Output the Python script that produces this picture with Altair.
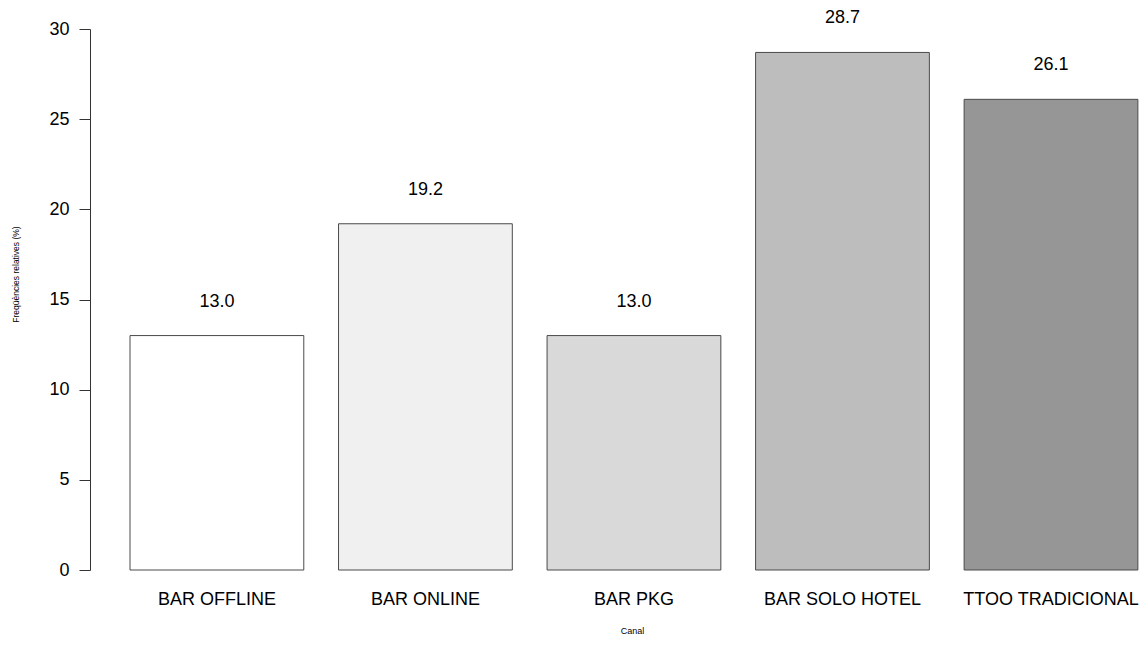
import altair as alt
import pandas as pd

canals = ["BAR OFFLINE", "BAR ONLINE", "BAR PKG", "BAR SOLO HOTEL", "TTOO TRADICIONAL"]
freq = [13.0, 19.2, 13.0, 28.7, 26.1]
fills = ["#FFFFFF", "#F0F0F0", "#D9D9D9", "#BDBDBD", "#969696"]

df = pd.DataFrame({"Canal": canals, "Freq": freq, "Fill": fills})

FONT = "Liberation Sans"

x = alt.X(
    "Canal:N",
    sort=canals,
    scale=alt.Scale(paddingInner=1/6, paddingOuter=0.0986, align=0.973),
    axis=alt.Axis(
        title="Canal",
        labelAngle=0,
        domain=False,
        ticks=False,
        labelPadding=20,
        labelFontSize=18,
        labelFont=FONT,
        labelColor="#000000",
        titleFont=FONT,
        titleFontSize=9,
        titleFontWeight="normal",
        titleColor="#000000",
        titleX=542,
        titleY=60,
        titleBaseline="middle",
        titleAlign="center",
    ),
)

y_axis = alt.Axis(
    title="Freqüències relatives (%)",
    values=[0, 5, 10, 15, 20, 25, 30],
    grid=False,
    tickSize=11,
    tickColor="#333333",
    domainColor="#333333",
    labelPadding=10,
    labelFontSize=18,
    labelFont=FONT,
    labelColor="#000000",
    titleFont=FONT,
    titleFontSize=8.5,
    titleFontWeight="normal",
    titleColor="#000000",
    titleX=-75,
    titleY=245,
    titleAlign="center",
    titleBaseline="middle",
)

bars = alt.Chart(df).mark_bar(stroke="#4A4A4A", strokeWidth=1).encode(
    x=x,
    y=alt.Y("Freq:Q", scale=alt.Scale(domain=[0, 30], nice=False), axis=y_axis),
    fill=alt.Fill("Fill:N", scale=None),
)

labels = alt.Chart(df).mark_text(
    fontSize=18, font=FONT, color="#000000", baseline="middle", dy=-34, clip=False
).encode(
    x=alt.X("Canal:N", sort=canals),
    y=alt.Y("Freq:Q"),
    text=alt.Text("Freq:Q", format=".1f"),
)

chart = (
    (bars + labels)
    .properties(
        width=1049,
        height=541,
        autosize=alt.AutoSizeParams(type="none"),
        padding={"left": 82, "top": 21, "right": 0, "bottom": 67},
    )
    .configure(background="#FFFFFF")
    .configure_view(strokeWidth=0, strokeOpacity=0)
)

chart.save("out.html", embed_options={"renderer": "svg", "actions": False})
